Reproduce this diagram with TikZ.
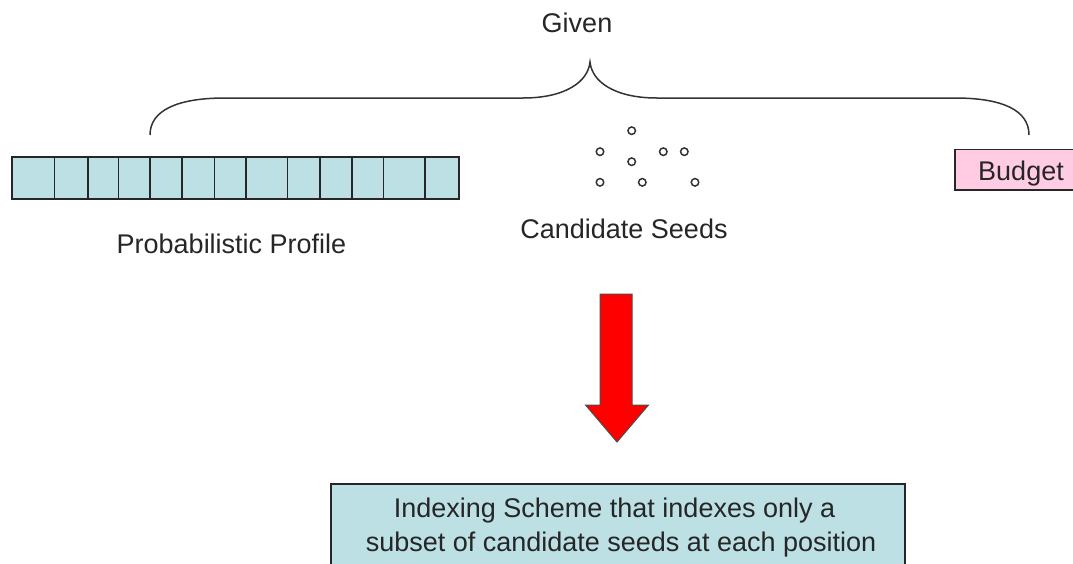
\documentclass[tikz,border=0pt]{standalone}
\usepackage{fontspec}
\setmainfont{Liberation Sans}
\definecolor{cellblue}{RGB}{188,224,228}
\definecolor{budgetpink}{RGB}{255,204,228}
\tikzset{box/.style = {draw=black!85, line width=1.6pt, fill=cellblue}}
\tikzset{seed/.style = {circle, draw=black!80, line width=1.5pt, minimum size=7.5pt, inner sep=0pt}}
\tikzset{lbl/.style = {font=\fontsize{27}{33}\selectfont, text=black!85, inner sep=0pt, anchor=base}}

\begin{document}
\begin{tikzpicture}[x=1pt, y=-1pt]
\clip (0,0) rectangle (1073,563);
% profile
\foreach \a/\b in {12/54.3, 54.3/87.7, 87.7/118.3, 118.3/149.7, 149.7/181.7, 181.7/214.3, 214.3/246, 246/287.3, 287.3/320, 320/351.7, 351.7/383.3, 383.3/425, 425/458.7}
  \draw[box] (\a,157) rectangle (\b,199);
\node[lbl] (profile) at (231.5,253.3) {Probabilistic Profile};
% seeds
\foreach \x/\y [count=\i] in {631.7/130.7, 600/151.7, 663.3/151.7, 684.3/151.7, 631.7/161.7, 600/182.3, 642.3/182.3, 695/182.3}
  \node[seed] (s\i) at (\x,\y) {};
\node[lbl] (seeds) at (624,238.3) {Candidate Seeds};
% budget
\draw[draw=black!85, line width=1.6pt, fill=budgetpink] (955,149.3) rectangle (1090,190);
\node[lbl] (budget) at (1021,180.7) {Budget};
% brace
\draw[black!80, line width=1.5pt] (150,135) .. controls (150,110) and (178,98) .. (225,98)
  -- (523,98) .. controls (565,98) and (588,82) .. (590,62)
  .. controls (592,82) and (615,98) .. (657,98)
  -- (955,98) .. controls (1002,98) and (1029,110) .. (1029,135);
\node[lbl] (given) at (577,32) {Given};
% arrow
\filldraw[fill=red, draw=black!70, line width=1pt] (600,294) -- (632,294) -- (632,405) -- (648.5,405)
  -- (617,442) -- (585.5,405) -- (600,405) -- cycle;
% result
\draw[box] (331,484) rectangle (905,600);
\node[lbl] (idx1) at (614.5,517) {Indexing Scheme that indexes only a};
\node[lbl] (idx2) at (621,551.7) {subset of candidate seeds at each position};
\end{tikzpicture}
\end{document}
